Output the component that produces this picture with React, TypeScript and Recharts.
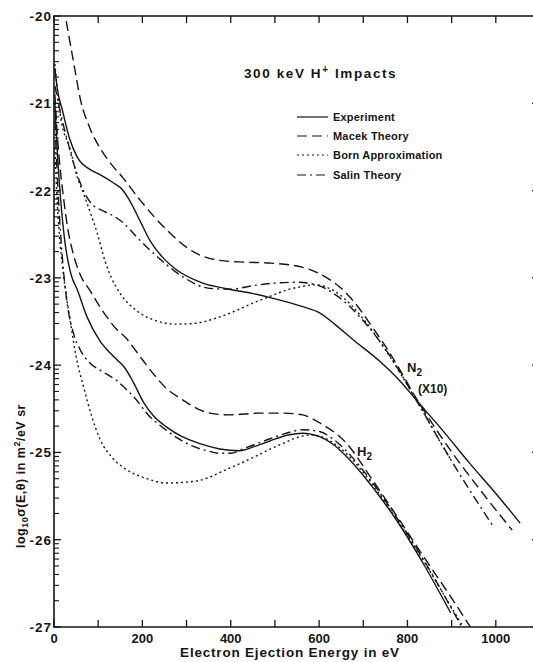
import React from "react";
import { LineChart, Line, XAxis, YAxis } from "recharts";

// electron energy (eV) vs log10 cross section
const n2Experiment = [
  [2, -20.6], [8, -20.85], [19, -21.08], [35, -21.4], [53, -21.62], [82, -21.76],
  [105, -21.82], [134, -21.91], [155, -21.99], [172, -22.12], [195, -22.35],
  [217, -22.57], [245, -22.76], [278, -22.91], [337, -23.06], [397, -23.13],
  [450, -23.18], [500, -23.24], [563, -23.33], [601, -23.4], [640, -23.55],
  [675, -23.7], [736, -23.95], [781, -24.17], [820, -24.4], [880, -24.75],
  [940, -25.12], [1000, -25.47], [1055, -25.81],
];
const n2Macek = [
  [10, -19.55], [26, -20.01], [45, -20.55], [60, -20.96], [80, -21.27], [105, -21.52],
  [130, -21.7], [157, -21.86], [195, -22.11], [255, -22.45], [315, -22.7],
  [375, -22.8], [430, -22.82], [488, -22.83], [563, -22.88], [600, -22.95],
  [624, -23.02], [650, -23.12], [675, -23.25], [720, -23.56], [766, -23.91],
  [820, -24.38], [880, -24.85], [960, -25.4], [1037, -25.89],
];
const n2Born = [
  [2, -20.55], [15, -21.16], [37, -21.53], [53, -21.85], [68, -22.05], [82, -22.25],
  [98, -22.49], [115, -22.8], [130, -23.0], [150, -23.18], [188, -23.38],
  [230, -23.49], [278, -23.53], [320, -23.52], [368, -23.46], [410, -23.38],
  [450, -23.29], [490, -23.21], [526, -23.14], [560, -23.1], [590, -23.08],
  [631, -23.14], [660, -23.25], [692, -23.42], [752, -23.84], [820, -24.4],
  [880, -24.93], [900, -25.1],
];
const n2Salin = [
  [2, -20.8], [15, -21.12], [30, -21.42], [45, -21.7], [60, -21.92], [75, -22.08],
  [89, -22.17], [110, -22.23], [127, -22.27], [157, -22.37], [185, -22.52],
  [217, -22.68], [255, -22.85], [292, -22.99], [352, -23.12], [400, -23.13],
  [450, -23.09], [500, -23.06], [548, -23.05], [594, -23.08], [639, -23.2],
  [698, -23.48], [752, -23.83], [820, -24.4], [900, -25.1], [992, -25.83],
];
const h2Experiment = [
  [2, -21.0], [8, -21.6], [15, -22.1], [25, -22.6], [38, -22.95], [53, -23.14],
  [75, -23.45], [105, -23.73], [125, -23.85], [143, -23.94], [160, -24.03],
  [180, -24.2], [202, -24.42], [225, -24.58], [255, -24.71], [290, -24.82],
  [330, -24.9], [375, -24.96], [420, -24.98], [455, -24.93], [488, -24.87],
  [530, -24.8], [563, -24.78], [601, -24.82], [630, -24.9], [661, -25.04],
  [720, -25.39], [781, -25.82], [840, -26.31], [898, -26.84],
];
const h2Macek = [
  [2, -20.9], [8, -21.4], [15, -21.8], [22, -22.1], [30, -22.4], [45, -22.75],
  [60, -22.97], [82, -23.15], [105, -23.34], [120, -23.45], [140, -23.58],
  [165, -23.7], [180, -23.8], [202, -23.95], [225, -24.1], [255, -24.27],
  [292, -24.4], [325, -24.5], [353, -24.55], [397, -24.57], [466, -24.55],
  [520, -24.55], [563, -24.57], [601, -24.66], [661, -24.89], [720, -25.31],
  [780, -25.76], [840, -26.22], [900, -26.67], [945, -27.02],
];
const h2Born = [
  [2, -21.5], [6, -22.0], [12, -22.5], [20, -22.9], [37, -23.5], [50, -23.9],
  [67, -24.25], [85, -24.58], [105, -24.86], [130, -25.05], [165, -25.2],
  [210, -25.3], [255, -25.35], [300, -25.34], [330, -25.32], [397, -25.18],
  [450, -25.06], [490, -24.96], [526, -24.88], [556, -24.82], [585, -24.8],
  [610, -24.83], [661, -25.01], [720, -25.36], [780, -25.8], [840, -26.27],
  [900, -26.78], [930, -27.03],
];
const h2Salin = [
  [2, -21.2], [8, -21.9], [15, -22.5], [22, -22.95], [30, -23.3], [45, -23.65],
  [60, -23.83], [80, -23.97], [105, -24.06], [125, -24.12], [143, -24.18],
  [160, -24.26], [180, -24.36], [217, -24.59], [250, -24.73], [278, -24.83],
  [310, -24.92], [346, -24.98], [375, -25.01], [400, -25.01], [427, -24.96],
  [475, -24.87], [526, -24.78], [563, -24.74], [601, -24.76], [630, -24.84],
  [661, -24.98], [720, -25.34], [780, -25.78], [840, -26.26], [900, -26.79],
  [925, -27.02],
];

const xTicks = [0, 100, 200, 300, 400, 500, 600, 700, 800, 900, 1000];
const xLabels = [0, 200, 400, 600, 800, 1000];
const yMajor = [-27, -26, -25, -24, -23, -22, -21, -20];
const minorFactors = [2, 3, 4, 5, 6, 7, 8, 9];

const INK = "#151515";
const FONT = "'Liberation Sans', Arial, sans-serif";

const styles = {
  experiment: { dash: undefined as string | undefined, label: "Experiment" },
  macek: { dash: "10 5", label: "Macek Theory" },
  born: { dash: "2 3", label: "Born Approximation" },
  salin: { dash: "9 4 2 4", label: "Salin Theory" },
};

const series = [
  { key: "n2e", pts: n2Experiment, s: styles.experiment },
  { key: "n2m", pts: n2Macek, s: styles.macek },
  { key: "n2b", pts: n2Born, s: styles.born },
  { key: "n2s", pts: n2Salin, s: styles.salin },
  { key: "h2e", pts: h2Experiment, s: styles.experiment },
  { key: "h2m", pts: h2Macek, s: styles.macek },
  { key: "h2b", pts: h2Born, s: styles.born },
  { key: "h2s", pts: h2Salin, s: styles.salin },
];

// log-scale minor ticks inside each decade
const yMinor = yMajor.slice(0, -1).flatMap((d) => minorFactors.map((k) => d + Math.log10(k)));

const tickLine = { stroke: INK, strokeWidth: 1.3 };
const axisLine = { stroke: INK, strokeWidth: 1.6 };

const NoLabel = () => <g />;

const BottomLabel = (p: any) => {
  const v = p.payload.value;
  if (!xLabels.includes(v)) return <g />;
  return (
    <text x={p.x} y={p.y + 16} textAnchor="middle" fontSize={13} fontWeight="bold"
      fontFamily={FONT} fill={INK}>{v}</text>
  );
};

const LeftLabel = (p: any) => (
  <text x={p.x - 1} y={p.y + 5} textAnchor="end" fontSize={13.5} fontWeight="bold"
    fontFamily={FONT} fill={INK} letterSpacing={1}>{Math.round(p.payload.value)}</text>
);

export default function App() {
  const legendRows = [styles.experiment, styles.macek, styles.born, styles.salin];
  return (
    <div style={{ position: "absolute", left: 0, top: 0, width: 533, height: 662, overflow: "hidden", background: "#fff" }}>
      <LineChart width={545} height={662} margin={{ top: 15, right: 0, bottom: 0, left: 0 }}>
        <XAxis xAxisId="b" type="number" dataKey="e" domain={[0, 1100]} allowDataOverflow
          ticks={xTicks} interval={0} height={35} tickSize={-7} tickMargin={7} tickLine={tickLine}
          tick={BottomLabel} axisLine={axisLine} />
        <XAxis xAxisId="t" orientation="top" type="number" dataKey="e" domain={[0, 1100]} allowDataOverflow
          ticks={xTicks} interval={0} height={1} tickSize={-7} tickLine={tickLine} tick={NoLabel}
          axisLine={axisLine} />
        <YAxis yAxisId="a_minor" type="number" domain={[-27, -20]} allowDataOverflow ticks={yMinor}
          interval={0} width={1} tickSize={-5} tickLine={{ stroke: INK, strokeWidth: 1.1 }} tick={NoLabel}
          axisLine={axisLine} />
        <YAxis yAxisId="b_major" type="number" domain={[-27, -20]} allowDataOverflow ticks={yMajor}
          interval={0} width={53} tickSize={-8} tickMargin={8} tickLine={tickLine} tick={LeftLabel}
          axisLine={false} />
        <YAxis yAxisId="r" orientation="right" type="number" domain={[-27, -20]} allowDataOverflow
          ticks={yMajor} interval={0} width={5} tickSize={-8} tickLine={tickLine} tick={NoLabel}
          axisLine={axisLine} />
        {series.map((sr) => (
          <Line key={sr.key} xAxisId="b" yAxisId="b_major" data={sr.pts.map(([e, y]) => ({ e, y }))}
            dataKey="y" type="monotone" stroke={INK} strokeWidth={1.4}
            strokeDasharray={sr.s.dash} dot={false} isAnimationActive={false} />
        ))}
      </LineChart>
      <svg width={533} height={662} style={{ position: "absolute", left: 0, top: 0, pointerEvents: "none" }}
        fontFamily={FONT} fill={INK}>
        <text x={244} y={78} fontSize={13.5} fontWeight="bold" letterSpacing={1.6}>
          300 keV H<tspan dy={-5} fontSize={10}>+</tspan><tspan dy={5}> Impacts</tspan>
        </text>
        {legendRows.map((r, i) => {
          const y = [117, 136, 155, 175][i];
          return (
            <g key={r.label}>
              <line x1={297} x2={328} y1={y} y2={y} stroke={INK} strokeWidth={1.2} strokeDasharray={r.dash} />
              <text x={333} y={y + 4} fontSize={11} fontWeight="bold" letterSpacing={0.2}>{r.label}</text>
            </g>
          );
        })}
        <text x={407} y={372} fontSize={13} fontWeight="bold">
          N<tspan dy={4} fontSize={10}>2</tspan>
        </text>
        <text x={418} y={393} fontSize={12} fontWeight="bold">(X10)</text>
        <text x={357} y={456} fontSize={13} fontWeight="bold">
          H<tspan dy={4} fontSize={10}>2</tspan>
        </text>
        <text x={290} y={657} textAnchor="middle" fontSize={13.5} fontWeight="bold" letterSpacing={0.8}>
          Electron Ejection Energy in eV
        </text>
        <text transform="translate(25,476) rotate(-90)" textAnchor="middle" fontSize={12.5} fontWeight="bold" letterSpacing={0.5}>
          log<tspan dy={3} fontSize={9}>10</tspan><tspan dy={-3}>σ(E,θ) in m</tspan>
          <tspan dy={-5} fontSize={9}>2</tspan><tspan dy={5}>/eV sr</tspan>
        </text>
      </svg>
    </div>
  );
}
